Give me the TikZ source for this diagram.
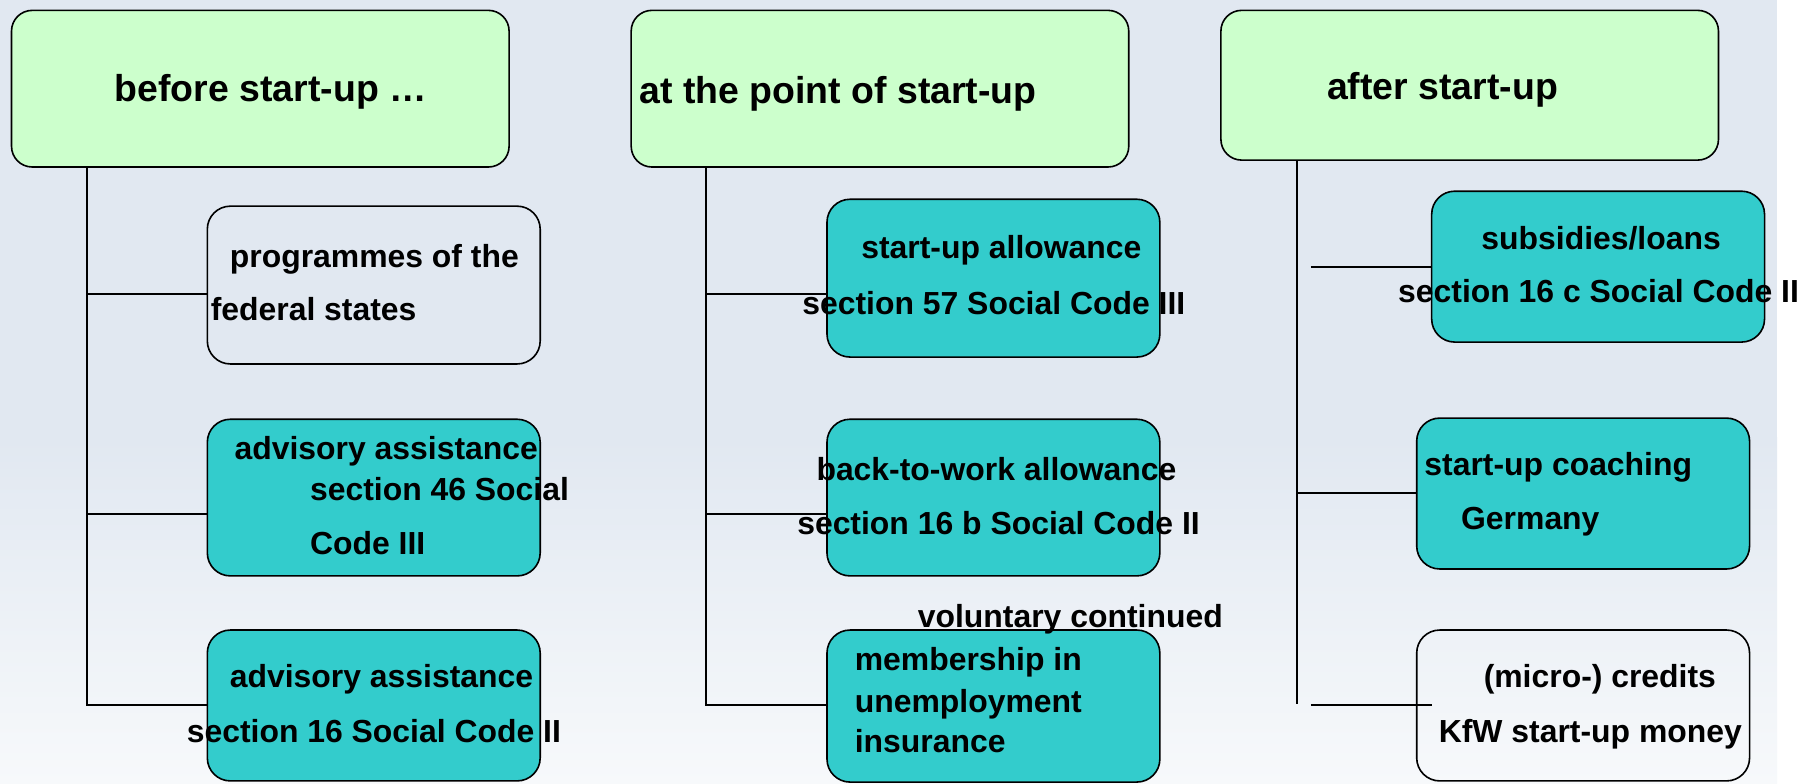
\documentclass[tikz,border=0pt]{standalone}
\usepackage{fontspec}
\setmainfont{Liberation Sans}
\definecolor{bgtop}{RGB}{225,232,241}
\definecolor{bgbot}{RGB}{247,249,251}
\definecolor{hdrgreen}{RGB}{204,255,204}
\definecolor{tealc}{RGB}{51,204,204}
\newcommand{\hdrfont}{\fontsize{32.5}{38}\selectfont\bfseries}
\newcommand{\kidfont}{\fontsize{27.7}{33}\selectfont\bfseries}
\tikzset{
  hdr/.style={draw=black, line width=1.4pt, fill=hdrgreen, rounded corners=18pt, inner sep=0pt, minimum width=432pt},
  kid/.style={draw=black, line width=1.4pt, rounded corners=20pt, inner sep=0pt, minimum width=289pt},
  tealbox/.style={kid, fill=tealc},
  conn/.style={draw=black, line width=1.5pt},
  htxt/.style={anchor=base west, inner sep=0pt, font=\hdrfont},
  ktxt/.style={anchor=base west, inner sep=0pt, font=\kidfont},
}
\begin{document}
\begin{tikzpicture}[x=1pt,y=-1pt]
\useasboundingbox (0,0) rectangle (1568,680);
\fill[white] (0,0) rectangle (1568,680);
\fill[bgtop] (0,0) rectangle (1543,381);
\shade[top color=bgtop, bottom color=bgbot] (0,380) rectangle (1543,680);

% header boxes
\node[hdr, minimum height=136pt] (h1) at (226,77) {};
\node[hdr, minimum height=136pt] (h2) at (764,77) {};
\node[hdr, minimum height=130pt] (h3) at (1276,74) {};

% child boxes
\node[kid, minimum height=137pt] (c1a) at (324.5,247.5) {};
\node[tealbox, minimum height=136pt] (c1b) at (324.5,432) {};
\node[tealbox, minimum height=131pt] (c1c) at (324.5,612.5) {};
\node[tealbox, minimum height=137pt] (c2a) at (862.5,241.5) {};
\node[tealbox, minimum height=136pt] (c2b) at (862.5,432) {};
\node[tealbox, minimum height=132pt] (c2c) at (862.5,613) {};
\node[tealbox, minimum height=131pt] (c3a) at (1387.5,231.5) {};
\node[tealbox, minimum height=131pt] (c3b) at (1374.5,428.5) {};
\node[kid, minimum height=131pt] (c3c) at (1374.5,612.5) {};

% trunk ends and branch points
\coordinate (e1) at (75.5,612);
\coordinate (e2) at (613,612);
\coordinate (e3) at (1126,611);
\coordinate (b1a) at (75.5,255);
\coordinate (b1b) at (75.5,446);
\coordinate (b2a) at (613,255);
\coordinate (b2b) at (613,446);
\coordinate (b3a) at (1138,231.5);
\coordinate (b3b) at (1126,428);
\coordinate (b3c) at (1138,612);
\coordinate (b3cend) at (1243,612);

% connectors
\draw[conn] (h1.south -| e1) -- (e1) -- (e1 -| c1c.west);
\draw[conn] (b1a) -- (b1a -| c1a.west);
\draw[conn] (b1b) -- (b1b -| c1b.west);
\draw[conn] (h2.south -| e2) -- (e2) -- (e2 -| c2c.west);
\draw[conn] (b2a) -- (b2a -| c2a.west);
\draw[conn] (b2b) -- (b2b -| c2b.west);
\draw[conn] (h3.south -| e3) -- (e3);
\draw[conn] (b3a) -- (b3a -| c3a.west);
\draw[conn] (b3b) -- (b3b -| c3b.west);
\draw[conn] (b3c) -- (b3cend);

% header texts
\node[htxt] (th1) at (99.5,88.5) {before start-up …};
\node[htxt] (th2) at (555,90.2) {at the point of start-up};
\node[htxt] (th3) at (1152,86) {after start-up};

% column 1 texts
\node[ktxt] (t1a1) at (199.4,232.4) {programmes of the};
\node[ktxt] (t1a2) at (182.8,278.6) {federal states};
\node[ktxt] (t1b1) at (203.5,398.6) {advisory assistance};
\node[ktxt] (t1b2) at (269,434.8) {section 46 Social};
\node[ktxt] (t1b3) at (269,481.8) {Code III};
\node[ktxt] (t1c1) at (199.4,596.8) {advisory assistance};
\node[ktxt] (t1c2) at (162,644.8) {section 16 Social Code II};

% column 2 texts
\node[ktxt] (t2a1) at (747.6,224.8) {start-up allowance};
\node[ktxt] (t2a2) at (696.4,272.8) {section 57 Social Code III};
\node[ktxt] (t2b1) at (708.7,416.8) {back-to-work allowance};
\node[ktxt] (t2b2) at (692,463.8) {section 16 b Social Code II};
\node[ktxt] (t2v) at (796.7,544.8) {voluntary continued};
\node[ktxt] (t2c1) at (742,582.5) {membership in};
\node[ktxt] (t2c2) at (742,618.8) {unemployment};
\node[ktxt] (t2c3) at (742,653.4) {insurance};

% column 3 texts
\node[ktxt] (t3a1) at (1286,216.4) {subsidies/loans};
\node[ktxt] (t3a2) at (1213.7,262.8) {section 16 c Social Code II};
\node[ktxt] (t3b1) at (1236.5,413.2) {start-up coaching};
\node[ktxt] (t3b2) at (1268.4,459.4) {Germany};
\node[ktxt] (t3c1) at (1288,596.8) {(micro-) credits};
\node[ktxt] (t3c2) at (1249,644.8) {KfW start-up money};
\end{tikzpicture}
\end{document}
